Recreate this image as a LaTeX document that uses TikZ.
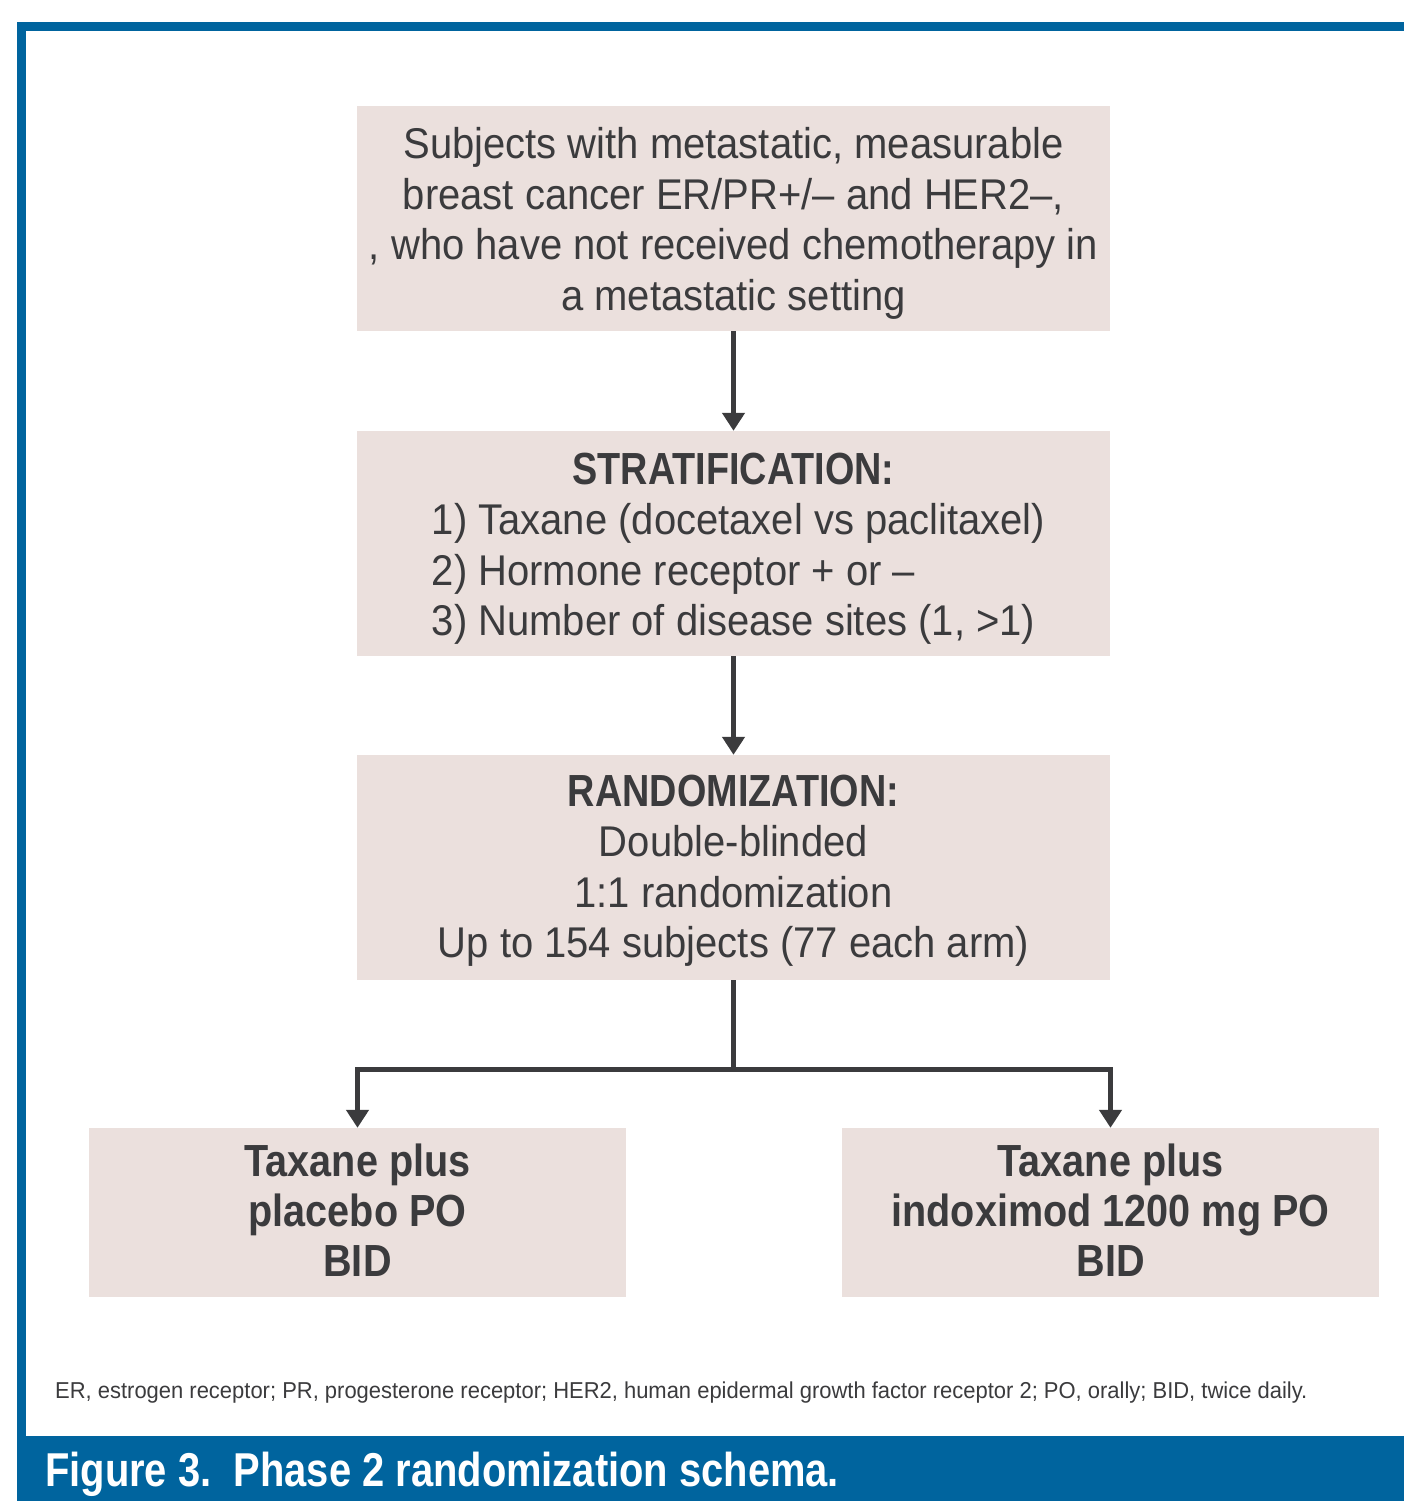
\documentclass[tikz,border=0pt]{standalone}
\usepackage{fontspec}
\usepackage{calc}
\setmainfont{Liberation Sans}[FakeStretch=0.93]
\newfontfamily\boldf{Liberation Sans}[FakeStretch=0.84]
\newfontfamily\armf{Liberation Sans}[FakeStretch=0.88]
\newfontfamily\notef{Liberation Sans}[FakeStretch=0.955]
\usetikzlibrary{arrows.meta}
\definecolor{frameblue}{RGB}{0,100,158}
\definecolor{boxfill}{RGB}{235,224,221}
\definecolor{ink}{RGB}{59,59,61}
\newcommand{\listline}[1]{\makebox[\widthof{3) Number of disease sites (1, >1)}][l]{#1}}
\begin{document}
\begin{tikzpicture}[x=1pt,y=-1pt,
  box/.style={fill=boxfill, draw=none, inner sep=0pt, minimum width=753pt, minimum height=225pt},
  armbox/.style={box, minimum width=537pt},
  boxtext/.style={inner sep=0pt, align=center, text=ink, font=\fontsize{43}{50.5}\selectfont},
  armtext/.style={boxtext, font=\armf\bfseries\fontsize{45}{50}\selectfont},
  flow/.style={draw=ink, line width=5pt, line join=miter, -{Triangle[width=22pt,length=18pt]}},
  flowline/.style={draw=ink, line width=5pt}]
\useasboundingbox (0,0) rectangle (1404,1501);
\fill[white] (0,0) rectangle (1404,1501);
% frame
\fill[frameblue] (17,22) rectangle (1404,31);
\fill[frameblue] (17,22) rectangle (26,1501);
\fill[frameblue] (17,1436) rectangle (1404,1501);
% boxes
\node[box] (subj) at (733.5,218.5) {};
\node[box] (strat) at (733.5,543.5) {};
\node[box] (rand) at (733.5,867.5) {};
\node[armbox, minimum height=169pt] (placebo) at (357.5,1212.5) {};
\node[armbox, minimum height=169pt] (indox) at (1110.5,1212.5) {};
% box texts
\node[boxtext] (subjtext) at ([yshift=-5pt]subj.center) {Subjects with metastatic, measurable\\ breast cancer ER/PR+/\textendash{} and HER2\textendash,\\ , who have not received chemotherapy in\\ a metastatic setting};
\node[boxtext] (strattext) at ([yshift=-5pt]strat.center) {{\boldf\bfseries\fontsize{45}{50.5}\selectfont STRATIFICATION:}\\
  \listline{1) Taxane (docetaxel vs paclitaxel)}\\
  \listline{2) Hormone receptor + or \textendash}\\
  \listline{3) Number of disease sites (1, >1)}};
\node[boxtext] (randtext) at ([yshift=-3pt]rand.center) {{\boldf\bfseries\fontsize{45}{50.5}\selectfont RANDOMIZATION:}\\ Double-blinded\\ 1:1 randomization\\ Up to 154 subjects (77 each arm)};
\node[armtext] (placebotext) at ([yshift=2pt]placebo.center) {Taxane plus\\ placebo PO\\ BID};
\node[armtext] (indoxtext) at ([yshift=2pt]indox.center) {Taxane plus\\ indoximod 1200 mg PO\\ BID};
% connectors
\draw[flow] (subj) -- (strat);
\draw[flow] (strat) -- (rand);
\coordinate (split) at (733.5,1069.5);
\draw[flowline] (rand.south) -- (split);
\draw[flow] (split) -| (placebo.north);
\draw[flow] (split) -| (indox.north);
% footnote and caption
\node[anchor=base west, inner sep=0pt, text=ink, font=\notef\fontsize{23}{27}\selectfont] (note) at (55,1398)
  {ER, estrogen receptor; PR, progesterone receptor; HER2, human epidermal growth factor receptor 2; PO, orally; BID, twice daily.};
\node[anchor=base west, inner sep=0pt, text=white, font=\boldf\bfseries\fontsize{47.5}{56}\selectfont] (caption) at (45,1486)
  {Figure 3.\ \ Phase 2 randomization schema.};
\end{tikzpicture}
\end{document}
